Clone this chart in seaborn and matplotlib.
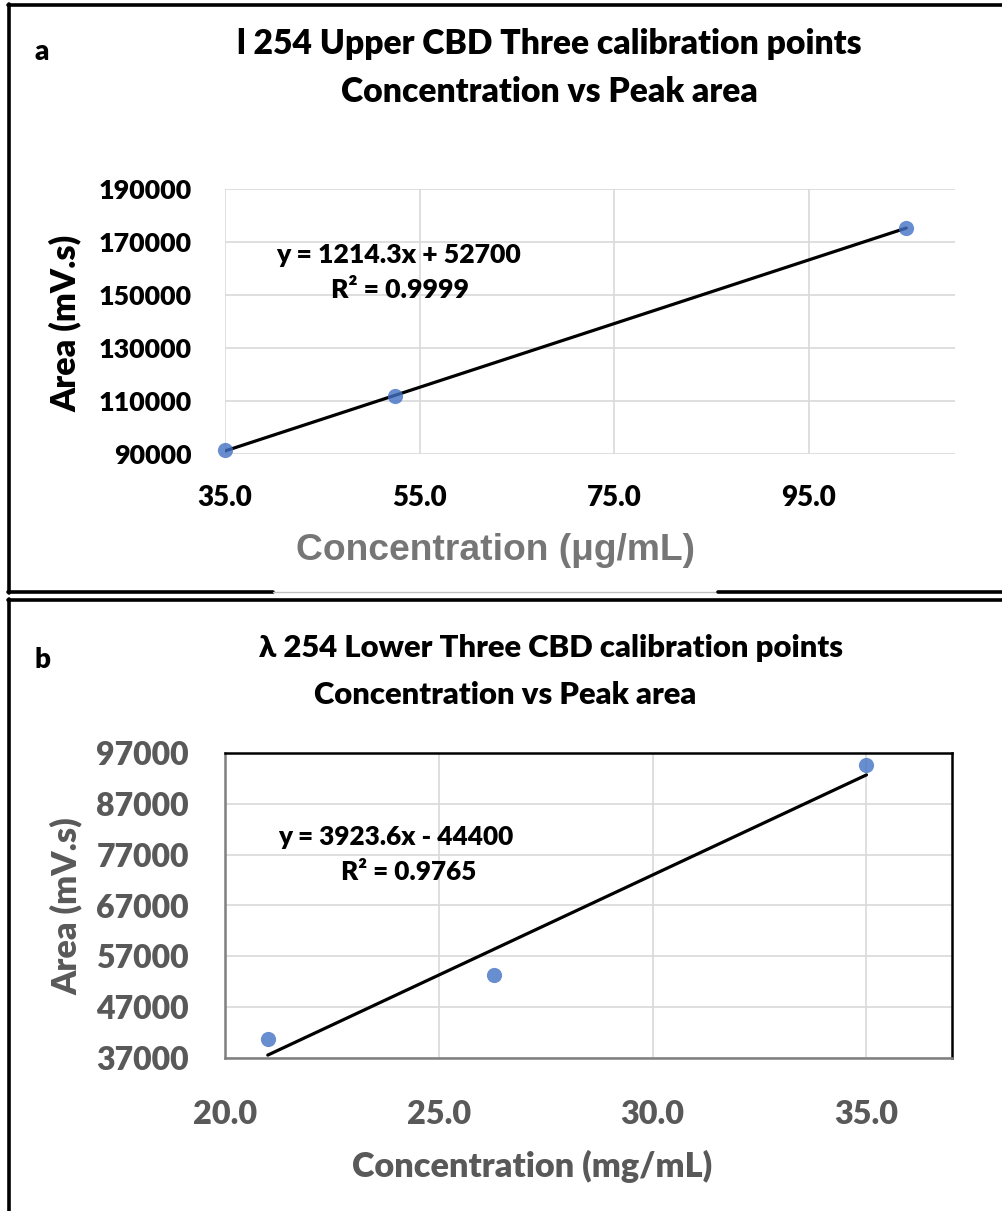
import numpy as np
import matplotlib
matplotlib.use("Agg")
import matplotlib.pyplot as plt
import seaborn as sns
from matplotlib.lines import Line2D

# panel a: upper three calibration points
conc_a = [35.0, 52.5, 105.0]
area_a = [91500, 111700, 175400]
xticks_a = [35.0, 55.0, 75.0, 95.0]
yticks_a = [90000, 110000, 130000, 150000, 170000, 190000]
title_a = ["l 254 Upper CBD Three calibration points", "Concentration vs Peak area"]
eq_a = "y = 1214.3x + 52700"
r2_a = "R² = 0.9999"

# panel b: lower three calibration points
conc_b = [21.0, 26.3, 35.0]
area_b = [40700, 53400, 94600]
xticks_b = [20.0, 25.0, 30.0, 35.0]
yticks_b = [37000, 47000, 57000, 67000, 77000, 87000, 97000]
title_b = ["λ 254 Lower Three CBD calibration points", "Concentration vs Peak area"]
eq_b = "y = 3923.6x - 44400"
r2_b = "R² = 0.9765"

W, H = 1003, 1211
BLUE = "#4472C4"
GRAY = "#595959"
GRID = "#d9d9d9"
FONT = ["Lato", "DejaVu Sans"]
WT = 800

sns.set_style("white")
plt.rcParams["font.family"] = FONT
plt.rcParams["font.weight"] = WT
plt.rcParams["text.color"] = "black"

fig = plt.figure(figsize=(W / 100, H / 100), dpi=100)


def px_axes(left, top, right, bottom):
    return fig.add_axes([left / W, 1 - bottom / H, (right - left) / W, (bottom - top) / H])


def fig_line(x0, y0, x1, y1, color="black", lw=2.6):
    fig.add_artist(Line2D([x0 / W, x1 / W], [1 - y0 / H, 1 - y1 / H],
                          color=color, lw=lw, transform=fig.transFigure))


def fig_text(x, y, s, **kw):
    return fig.text(x / W, 1 - y / H, s, ha="center", va="center", fontweight=WT,
                    color="black", **kw)


def fit(txt, target, vertical=False, apply=True):
    # font size that makes the text span the width
    bb = txt.get_window_extent(fig.canvas.get_renderer())
    size = bb.height if vertical else bb.width
    new = txt.get_fontsize() * target / size
    if apply:
        txt.set_fontsize(new)
    return new


def draw_panel(ax, x, y, xticks, yticks, xlim, ylim):
    sns.regplot(x=np.array(x), y=np.array(y), ax=ax, ci=None, truncate=True,
                scatter_kws=dict(s=120, color=BLUE, zorder=4, clip_on=False, linewidths=0),
                line_kws=dict(color="black", lw=2.3, zorder=3))
    ax.set_xlim(*xlim)
    ax.set_ylim(*ylim)
    ax.set_xticks(xticks)
    ax.set_xticklabels([f"{v:.1f}" for v in xticks])
    ax.set_yticks(yticks)
    ax.set_yticklabels([str(v) for v in yticks])
    ax.grid(True, color=GRID, lw=1.2)
    ax.set_axisbelow(True)
    ax.tick_params(length=0)


# ---- panel a ----
ax1 = px_axes(225, 189, 955, 454)
draw_panel(ax1, conc_a, area_a, xticks_a, yticks_a, (35, 110), (90000, 190000))
for s in ax1.spines.values():
    s.set_visible(False)
ax1.tick_params(axis="y", labelsize=19, labelcolor="black", pad=24)
ax1.tick_params(axis="x", labelsize=19, labelcolor="black", pad=22)
yl1 = ax1.set_ylabel("Area (mV.s)", fontsize=24, fontweight=WT, color="black")
ax1.yaxis.set_label_coords(-0.196, 0.494)
xl1 = ax1.set_xlabel("Concentration (μg/mL)", fontsize=27, fontweight="bold", color="#767676",
                     family=["Liberation Sans", "DejaVu Sans"])
ax1.xaxis.set_label_coords(0.37, -0.30)
eq1 = ax1.text(0.237, 0.751, eq_a, transform=ax1.transAxes, ha="center", va="center",
               fontsize=15.5, fontweight=WT, color="black")
r21 = ax1.text(0.240, 0.619, r2_a, transform=ax1.transAxes, ha="center", va="center",
               fontsize=15.5, fontweight=WT, color="black")
ta1 = fig_text(549, 44, title_a[0], fontsize=20.5)
ta2 = fig_text(549, 92, title_a[1], fontsize=20.5)
fig_text(42, 52, "a", fontsize=20)

# ---- panel b ----
ax2 = px_axes(225, 753, 952, 1058)
draw_panel(ax2, conc_b, area_b, xticks_b, yticks_b, (20, 37), (37000, 97000))
for k in ["top", "right"]:
    ax2.spines[k].set_color("black")
    ax2.spines[k].set_linewidth(1.8)
for k in ["left", "bottom"]:
    ax2.spines[k].set_color("#7f7f7f")
    ax2.spines[k].set_linewidth(1.8)
ax2.tick_params(axis="y", labelsize=22, labelcolor=GRAY, pad=26)
ax2.tick_params(axis="x", labelsize=22, labelcolor=GRAY, pad=30)
yl2 = ax2.set_ylabel("Area (mV.s)", fontsize=24, fontweight=WT, color=GRAY)
ax2.yaxis.set_label_coords(-0.195, 0.497)
xl2 = ax2.set_xlabel("Concentration (mg/mL)", fontsize=23, fontweight=WT, color=GRAY)
ax2.xaxis.set_label_coords(0.422, -0.30)
eq2 = ax2.text(0.235, 0.723, eq_b, transform=ax2.transAxes, ha="center", va="center",
               fontsize=15.5, fontweight=WT, color="black")
r22 = ax2.text(0.253, 0.609, r2_b, transform=ax2.transAxes, ha="center", va="center",
               fontsize=15.5, fontweight=WT, color="black")
tb1 = fig_text(551, 648, title_b[0], fontsize=20.5)
tb2 = fig_text(505, 695, title_b[1], fontsize=20.5)
fig_text(42, 660, "b", fontsize=20)

# ---- match text widths to the reference ----
fig.canvas.draw()
size_a = (fit(ta1, 590, apply=False) + fit(ta2, 442, apply=False)) / 2
ta1.set_fontsize(size_a)
ta2.set_fontsize(size_a)
size_b = (fit(tb1, 538, apply=False) + fit(tb2, 418, apply=False)) / 2
tb1.set_fontsize(size_b)
tb2.set_fontsize(size_b)
fit(yl1, 177, vertical=True)
fit(yl2, 178, vertical=True)
fit(xl1, 400)
fit(xl2, 360)
for t in (eq1, r21):
    t.set_fontsize(fit(r21, 137, apply=False))
for t in (eq2, r22):
    t.set_fontsize(fit(r22, 135, apply=False))
ax1.tick_params(axis="y", labelsize=fit(ax1.get_yticklabels()[-1], 93))
ax1.tick_params(axis="x", labelsize=fit(ax1.get_xticklabels()[0], 55))
ax2.tick_params(axis="y", labelsize=fit(ax2.get_yticklabels()[-1], 93))
ax2.tick_params(axis="x", labelsize=fit(ax2.get_xticklabels()[1], 64))

# ---- panel frames ----
fig_line(8, 5, W, 5)
fig_line(9, 4, 9, 593)
fig_line(8, 592, 273, 592)
fig_line(273, 592, 718, 592, color="#bfbfbf", lw=1.0)
fig_line(718, 592, W, 592)
fig_line(8, 600, W, 600)
fig_line(9, 599, 9, H)

fig.savefig("out.png", dpi=100, facecolor="white")
